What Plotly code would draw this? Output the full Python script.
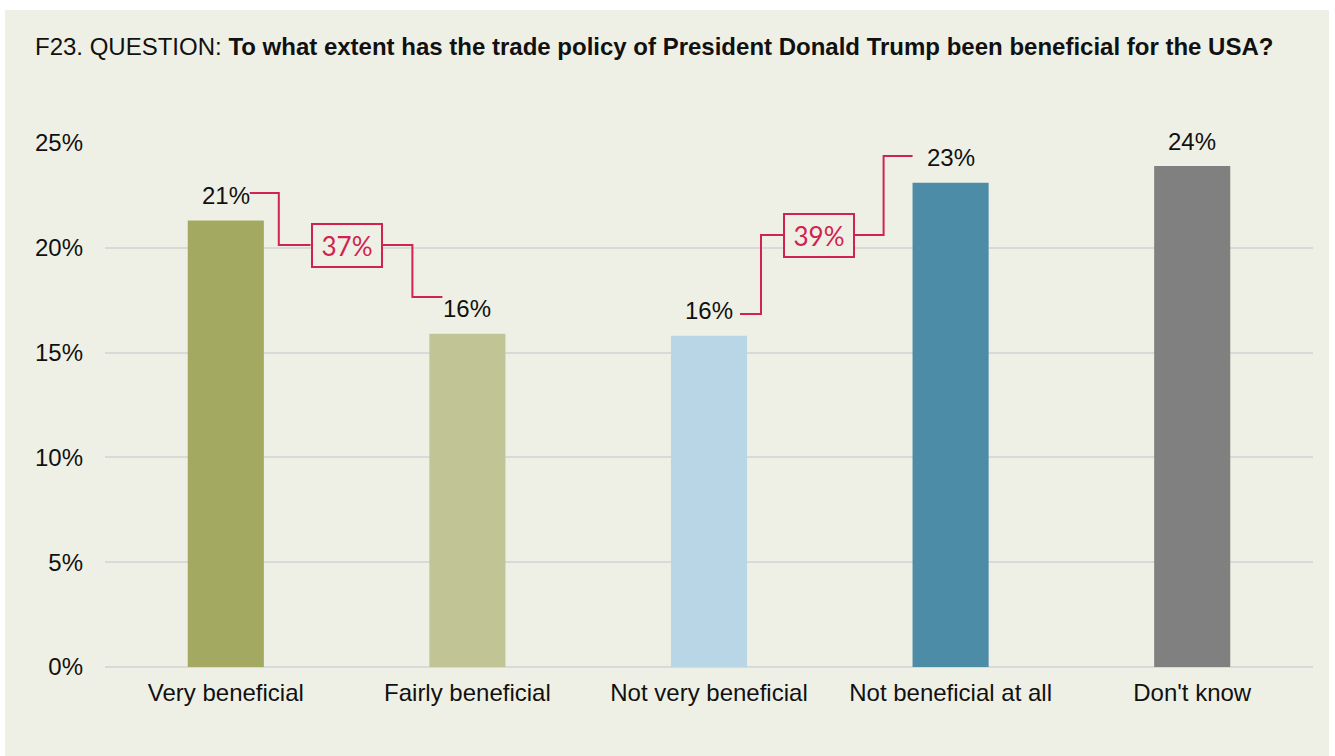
import plotly.graph_objects as go

# Survey answers and shares (%)
categories = ["Very beneficial", "Fairly beneficial", "Not very beneficial",
              "Not beneficial at all", "Don't know"]
shares = [21.3, 15.9, 15.8, 23.1, 23.9]
bar_colors = ["#A3A961", "#C1C595", "#B8D6E6", "#4D8CA6", "#808080"]

y_ticks = [0, 5, 10, 15, 20, 25]
y_tick_labels = ["0%", "5%", "10%", "15%", "20%", "25%"]

# Grouped totals: (first bar index, second bar index)
groups = [(0, 1), (2, 3)]

title_prefix = "F23. QUESTION: "
title_question = "To what extent has the trade policy of President Donald Trump been beneficial for the USA?"

# ---- layout constants (pixels) ----
W, H = 1335, 756
M_L, M_R, M_T, M_B = 105, 22, 143, 89
PLOT_W = W - M_L - M_R
PLOT_H = H - M_T - M_B
Y_MAX = 25
N = len(categories)

BG = "#EFF0E5"
ACCENT = "#D0234F"
TEXT = "#111111"
FONT = "Liberation Sans, Arial, sans-serif"
FS = 24


def dx(px):
    """pixel distance -> category units"""
    return px * N / PLOT_W


def dy(px):
    """pixel distance -> percentage units"""
    return px * Y_MAX / PLOT_H


def paper_x(px):
    return (px - M_L) / PLOT_W


def paper_y(py):
    return (H - M_B - py) / PLOT_H


fig = go.Figure()
fig.add_trace(go.Bar(
    x=list(range(N)), y=shares,
    marker=dict(color=bar_colors, line=dict(width=0)),
    hoverinfo="skip",
))

shapes = []
annotations = []

# beige panel behind everything
shapes.append(dict(type="rect", xref="paper", yref="paper", layer="below",
                   x0=paper_x(5), x1=paper_x(1329), y0=paper_y(H), y1=paper_y(10),
                   fillcolor=BG, line=dict(width=0)))

# value labels above bars
for i, v in enumerate(shares):
    annotations.append(dict(x=i, y=v, xref="x", yref="y", text=f"{v:.0f}%",
                            showarrow=False, yanchor="middle", yshift=25,
                            font=dict(family=FONT, size=FS, color=TEXT)))

# connector geometry (pixel offsets from bar centres / bar tops)
conn = [
    dict(start_dx=24, start_up=27.5, elbow1_dx=53, box_cx=0.5, box_w=72, box_h=45,
         elbow2_dx=-55, end_dx=-25, end_up=36.7),
    dict(start_dx=31, start_up=21.8, elbow1_dx=52, box_cx=None, box_off=110, box_w=72, box_h=45,
         elbow2_dx=-67, end_dx=-38, end_up=26.8),
]

for (a, b), g in zip(groups, conn):
    total = round(shares[a]) + round(shares[b])
    y_start = shares[a] + dy(g["start_up"])
    y_end = shares[b] + dy(g["end_up"])
    y_box = (y_start + y_end) / 2
    if g["box_cx"] is not None:
        x_box = a + g["box_cx"]
    else:
        x_box = a + dx(g["box_off"])
    half_w = dx(g["box_w"] / 2)
    x_s = a + dx(g["start_dx"])
    x_e1 = a + dx(g["elbow1_dx"])
    x_e2 = b + dx(g["elbow2_dx"])
    x_e = b + dx(g["end_dx"])
    path_left = f"M {x_s},{y_start} L {x_e1},{y_start} L {x_e1},{y_box} L {x_box - half_w},{y_box}"
    path_right = f"M {x_box + half_w},{y_box} L {x_e2},{y_box} L {x_e2},{y_end} L {x_e},{y_end}"
    for p in (path_left, path_right):
        shapes.append(dict(type="path", xref="x", yref="y", path=p,
                           line=dict(color=ACCENT, width=2)))
    annotations.append(dict(x=x_box, y=y_box, xref="x", yref="y", text=f"{total}%",
                            showarrow=False, xanchor="center", yanchor="middle",
                            width=g["box_w"] - 6, height=g["box_h"] - 6,
                            borderpad=1, borderwidth=2, bordercolor=ACCENT, bgcolor=BG,
                            font=dict(family="Lato, sans-serif", size=26, color=ACCENT)))

# title
annotations.append(dict(xref="paper", yref="paper", x=paper_x(33), y=paper_y(46),
                        xanchor="left", yanchor="middle", showarrow=False,
                        text=f"{title_prefix}<b>{title_question}</b>",
                        font=dict(family=FONT, size=FS, color=TEXT)))

fig.update_layout(
    width=W, height=H,
    margin=dict(l=M_L, r=M_R, t=M_T, b=M_B, pad=0),
    paper_bgcolor="white", plot_bgcolor="rgba(0,0,0,0)",
    showlegend=False,
    bargap=0.685,
    shapes=shapes, annotations=annotations,
    font=dict(family=FONT, size=FS, color=TEXT),
    xaxis=dict(tickmode="array", tickvals=list(range(N)), ticktext=categories,
               range=[-0.5, N - 0.5], showgrid=False, zeroline=False, showline=False,
               ticks="", ticklabelstandoff=9,
               tickfont=dict(family=FONT, size=FS, color=TEXT)),
    yaxis=dict(range=[0, Y_MAX], tickmode="array", tickvals=y_ticks, ticktext=y_tick_labels,
               showgrid=True, gridcolor="#D9D9D9", gridwidth=2,
               zeroline=True, zerolinecolor="#D9D9D9", zerolinewidth=2,
               showline=False, ticks="", ticklabelstandoff=21,
               tickfont=dict(family=FONT, size=FS, color=TEXT)),
)

fig.write_html("out.html")
